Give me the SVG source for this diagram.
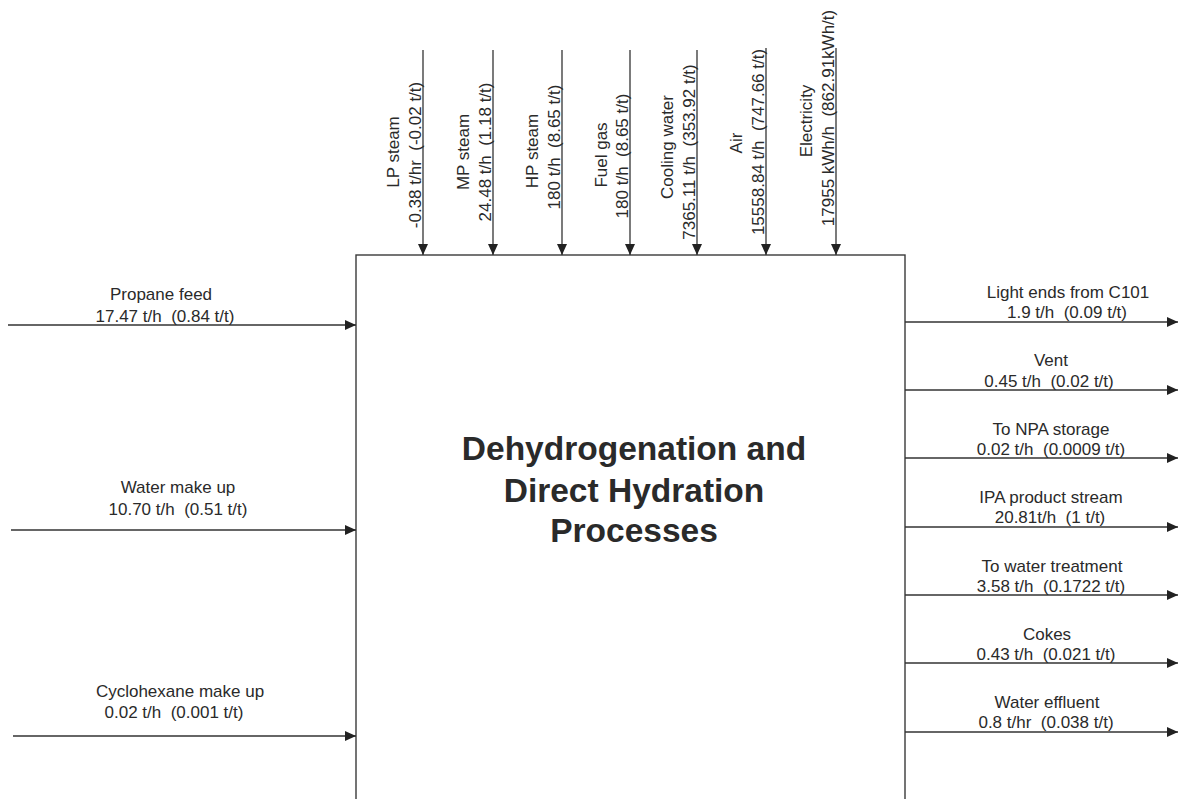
<svg xmlns="http://www.w3.org/2000/svg" width="1180" height="799" viewBox="0 0 1180 799" xml:space="preserve">
<style>
.bg{fill:#ffffff}
.box{fill:none;stroke:#3a3a3a;stroke-width:1.4}
.ln{stroke:#333333;stroke-width:1.3;fill:none}
.lb{font-family:"Liberation Sans",Arial,sans-serif;font-size:17px;fill:#2a2a2a;text-anchor:middle;white-space:pre}
.vl{font-family:"Liberation Sans",Arial,sans-serif;font-size:17px;fill:#2a2a2a;text-anchor:middle;white-space:pre}
.tt{font-family:"Liberation Sans",Arial,sans-serif;font-size:33.5px;font-weight:bold;fill:#2a2a2a;text-anchor:middle}
</style>
<defs>
<marker id="ah" markerUnits="userSpaceOnUse" markerWidth="11" markerHeight="10" refX="11" refY="5" orient="auto">
<path d="M0,0 L11,5 L0,10 z" fill="#222222"/>
</marker>
</defs>
<rect class="bg" x="0" y="0" width="1180" height="799"/>
<g id="process">
<rect class="box" x="356" y="255" width="549" height="560"/>
<text class="tt" x="634" y="460">Dehydrogenation and</text>
<text class="tt" x="634" y="502">Direct Hydration</text>
<text class="tt" x="634" y="542">Processes</text>
</g>
<g id="connectors">
<line class="ln" x1="423" y1="50" x2="423" y2="255" marker-end="url(#ah)"/>
<line class="ln" x1="493" y1="50" x2="493" y2="255" marker-end="url(#ah)"/>
<line class="ln" x1="562" y1="50" x2="562" y2="255" marker-end="url(#ah)"/>
<line class="ln" x1="630" y1="50" x2="630" y2="255" marker-end="url(#ah)"/>
<line class="ln" x1="697" y1="50" x2="697" y2="255" marker-end="url(#ah)"/>
<line class="ln" x1="766" y1="48" x2="766" y2="255" marker-end="url(#ah)"/>
<line class="ln" x1="836" y1="48" x2="836" y2="255" marker-end="url(#ah)"/>
<line class="ln" x1="8" y1="325" x2="356" y2="325" marker-end="url(#ah)"/>
<line class="ln" x1="11" y1="530" x2="356" y2="530" marker-end="url(#ah)"/>
<line class="ln" x1="13" y1="736" x2="356" y2="736" marker-end="url(#ah)"/>
<line class="ln" x1="905" y1="322" x2="1178" y2="322" marker-end="url(#ah)"/>
<line class="ln" x1="905" y1="390" x2="1178" y2="390" marker-end="url(#ah)"/>
<line class="ln" x1="905" y1="458" x2="1178" y2="458" marker-end="url(#ah)"/>
<line class="ln" x1="905" y1="527" x2="1178" y2="527" marker-end="url(#ah)"/>
<line class="ln" x1="905" y1="595" x2="1178" y2="595" marker-end="url(#ah)"/>
<line class="ln" x1="905" y1="663" x2="1178" y2="663" marker-end="url(#ah)"/>
<line class="ln" x1="905" y1="732" x2="1178" y2="732" marker-end="url(#ah)"/>
</g>
<g id="lp-steam">
<text class="vl" transform="translate(399,152) rotate(-90)">LP steam</text>
<text class="vl" transform="translate(421,155) rotate(-90)">-0.38 t/hr  (-0.02 t/t)</text>
</g>
<g id="mp-steam">
<text class="vl" transform="translate(469,152) rotate(-90)">MP steam</text>
<text class="vl" transform="translate(491,152) rotate(-90)">24.48 t/h  (1.18 t/t)</text>
</g>
<g id="hp-steam">
<text class="vl" transform="translate(538,151) rotate(-90)">HP steam</text>
<text class="vl" transform="translate(560,147) rotate(-90)">180 t/h  (8.65 t/t)</text>
</g>
<g id="fuel-gas">
<text class="vl" transform="translate(607,155) rotate(-90)">Fuel gas</text>
<text class="vl" transform="translate(628,156) rotate(-90)">180 t/h  (8.65 t/t)</text>
</g>
<g id="cooling-water">
<text class="vl" transform="translate(673,147) rotate(-90)">Cooling water</text>
<text class="vl" transform="translate(695,152) rotate(-90)">7365.11 t/h  (353.92 t/t)</text>
</g>
<g id="air">
<text class="vl" transform="translate(742,143) rotate(-90)">Air</text>
<text class="vl" transform="translate(764,142) rotate(-90)">15558.84 t/h  (747.66 t/t)</text>
</g>
<g id="electricity">
<text class="vl" transform="translate(812,121) rotate(-90)">Electricity</text>
<text class="vl" transform="translate(834,118) rotate(-90)">17955 kWh/h  (862.91kWh/t)</text>
</g>
<g id="propane-feed">
<text class="lb" x="161" y="300">Propane feed</text>
<text class="lb" x="165" y="322">17.47 t/h  (0.84 t/t)</text>
</g>
<g id="water-make-up">
<text class="lb" x="178" y="493">Water make up</text>
<text class="lb" x="178" y="515">10.70 t/h  (0.51 t/t)</text>
</g>
<g id="cyclohexane-make-up">
<text class="lb" x="180" y="697">Cyclohexane make up</text>
<text class="lb" x="174" y="718">0.02 t/h  (0.001 t/t)</text>
</g>
<g id="light-ends">
<text class="lb" x="1068" y="298">Light ends from C101</text>
<text class="lb" x="1067" y="318">1.9 t/h  (0.09 t/t)</text>
</g>
<g id="vent">
<text class="lb" x="1051" y="366">Vent</text>
<text class="lb" x="1049" y="387">0.45 t/h  (0.02 t/t)</text>
</g>
<g id="npa-storage">
<text class="lb" x="1051" y="435">To NPA storage</text>
<text class="lb" x="1051" y="455">0.02 t/h  (0.0009 t/t)</text>
</g>
<g id="ipa-product">
<text class="lb" x="1051" y="503">IPA product stream</text>
<text class="lb" x="1050" y="523">20.81t/h  (1 t/t)</text>
</g>
<g id="water-treatment">
<text class="lb" x="1052" y="572">To water treatment</text>
<text class="lb" x="1051" y="592">3.58 t/h  (0.1722 t/t)</text>
</g>
<g id="cokes">
<text class="lb" x="1047" y="640">Cokes</text>
<text class="lb" x="1046" y="660">0.43 t/h  (0.021 t/t)</text>
</g>
<g id="water-effluent">
<text class="lb" x="1047" y="708">Water effluent</text>
<text class="lb" x="1046" y="728">0.8 t/hr  (0.038 t/t)</text>
</g>
</svg>
